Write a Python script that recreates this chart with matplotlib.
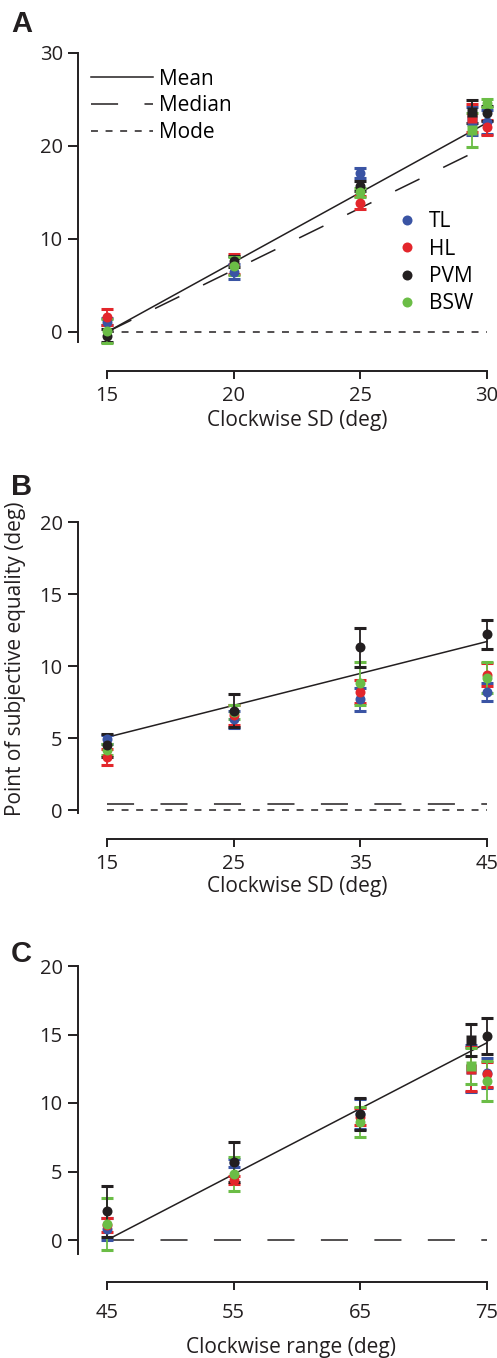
import matplotlib
matplotlib.use("Agg")
import matplotlib.pyplot as plt
from matplotlib.lines import Line2D

plt.rcParams['font.family'] = ['Open Sans', 'DejaVu Sans']
plt.rcParams['lines.scale_dashes'] = False

W, H = 497, 1358

subjects = ['TL', 'HL', 'PVM', 'BSW']
colors = {'TL': '#3a54a4', 'HL': '#e3262b', 'PVM': '#231f20', 'BSW': '#6bbd46'}

# Panel A: clockwise SD 15-30
a_x = [15, 20, 25, 30]
a_mean = {'TL': [1.1, 6.5, 17.1, 22.6], 'HL': [1.6, 7.3, 13.9, 22.0],
          'PVM': [-0.4, 7.6, 15.7, 23.5], 'BSW': [0.1, 7.1, 15.0, 24.6]}
a_err = {'TL': [0.4, 0.8, 0.5, 1.3], 'HL': [0.9, 1.1, 0.7, 0.8],
         'PVM': [0.7, 0.6, 0.5, 0.8], 'BSW': [1.3, 1.0, 0.5, 0.4]}
a_sq_x = 29.4
a_sq = {'TL': 22.7, 'HL': 23.0, 'PVM': 23.7, 'BSW': 21.7}
a_sq_err = {'TL': 1.5, 'HL': 1.5, 'PVM': 1.2, 'BSW': 1.8}
a_pred_x = [15, 30]
a_pred_mean = [0, 22.5]
a_pred_median = [0, 20]
a_pred_mode = [0, 0]

# Panel B: clockwise SD 15-45
b_x = [15, 25, 35, 45]
b_mean = {'TL': [4.9, 6.3, 7.7, 8.2], 'HL': [3.7, 6.6, 8.2, 9.4],
          'PVM': [4.5, 6.9, 11.3, 12.2], 'BSW': [4.2, 6.8, 8.8, 9.2]}
b_err = {'TL': [0.3, 0.6, 0.8, 0.6], 'HL': [0.55, 0.7, 0.8, 0.8],
         'PVM': [0.8, 1.15, 1.35, 1.0], 'BSW': [0.4, 0.5, 1.5, 1.05]}
b_pred_x = [15, 45]
b_pred_mean = [5.05, 11.7]
b_pred_median = [0.45, 0.45]
b_pred_mode = [0, 0]

# Panel C: clockwise range 45-75
c_x = [45, 55, 65, 75]
c_mean = {'TL': [0.8, 5.6, 9.2, 12.2], 'HL': [1.1, 4.4, 9.0, 12.1],
          'PVM': [2.1, 5.7, 9.2, 14.9], 'BSW': [1.2, 4.8, 8.6, 11.6]}
c_err = {'TL': [0.8, 0.3, 1.1, 1.1], 'HL': [0.5, 0.3, 0.6, 0.9],
         'PVM': [1.85, 1.45, 1.15, 1.3], 'BSW': [1.9, 1.25, 1.1, 1.45]}
c_sq_x = 73.7
c_sq = {'TL': 12.5, 'HL': 12.5, 'PVM': 14.6, 'BSW': 12.7}
c_sq_err = {'TL': 1.7, 'HL': 1.6, 'PVM': 1.2, 'BSW': 1.3}
c_pred_x = [45, 75]
c_pred_mean = [0, 14.4]
c_pred_median = [0, 0]

LONG = (0, (19.5, 19))
SHORT = (0, (5, 5.5))
TICK_FS = 14.5
LABEL_FS = 15
INK = '#231f20'


def pix_axes(fig, left, right, top, bottom):
    return fig.add_axes([left / W, 1 - bottom / H, (right - left) / W, (bottom - top) / H])


def setup(ax, xt, xpx, yt, ypx, left, right, top, bottom, ybot, xpad):
    # map pixel layout to data limits
    sx = (xpx[1] - xpx[0]) / (xt[-1] - xt[0])
    sy = (ypx[0] - ypx[1]) / (yt[-1] - yt[0])
    ax.set_xlim(xt[0] - (xpx[0] - left) / sx, xt[-1] + (right - xpx[1]) / sx)
    ax.set_ylim(yt[0] - (bottom - ypx[0]) / sy, yt[-1] + (ypx[1] - top) / sy)
    for s in ['top', 'right']:
        ax.spines[s].set_visible(False)
    for s in ['left', 'bottom']:
        ax.spines[s].set_linewidth(1.4)
        ax.spines[s].set_color(INK)
    ax.spines['left'].set_bounds(ybot, yt[-1])
    ax.spines['bottom'].set_bounds(xt[0], xt[-1])
    ax.set_xticks(xt)
    ax.set_yticks(yt)
    ax.tick_params(axis='y', length=7, width=1.4, pad=4, labelsize=TICK_FS, colors=INK)
    ax.tick_params(axis='x', length=6, width=1.4, pad=xpad, labelsize=TICK_FS, colors=INK)
    ax.patch.set_visible(False)


def points(ax, xs, means, errs, order, marker='o', ms=7.2):
    for s in order:
        ax.errorbar(xs, means[s], yerr=errs[s], fmt=marker, color=colors[s],
                    ms=ms, mec='none', elinewidth=1.3, capsize=4, capthick=2.2, zorder=3)


fig = plt.figure(figsize=(W / 100, H / 100), dpi=100)

# ---- A
axA = pix_axes(fig, 78, 495, 48, 371)
setup(axA, [15, 20, 25, 30], (107, 487), [0, 10, 20, 30], (332, 53), 78, 495, 48, 371, -1.1, 5)
axA.plot(a_pred_x, a_pred_mean, color=INK, lw=1.1, zorder=2)
axA.plot(a_pred_x, a_pred_median, color=INK, lw=1.1, linestyle=LONG, zorder=2)
axA.plot(a_pred_x, a_pred_mode, color=INK, lw=1.1, linestyle=SHORT, zorder=2)
points(axA, a_x, a_mean, a_err, ['TL', 'HL', 'PVM', 'BSW'])
for s in ['TL', 'HL', 'BSW', 'PVM']:
    axA.errorbar([a_sq_x], [a_sq[s]], yerr=[a_sq_err[s]], fmt='s', color=colors[s],
                 ms=6.5, mec='none', elinewidth=1.3, capsize=4, capthick=2.2, zorder=3)
axA.set_xlabel('Clockwise SD (deg)', fontsize=LABEL_FS, color=INK, labelpad=4)
axA.xaxis.set_label_coords(0.525, -0.12)

line_handles = [Line2D([], [], color=INK, lw=1.1),
                Line2D([], [], color=INK, lw=1.1, linestyle=LONG),
                Line2D([], [], color=INK, lw=1.1, linestyle=SHORT)]
leg1 = axA.legend(line_handles, ['Mean', 'Median', 'Mode'], loc='upper left',
                  bbox_to_anchor=(0.0, 0.975), frameon=False, fontsize=LABEL_FS,
                  handlelength=3.0, handletextpad=0.3, labelspacing=0.28, borderaxespad=0.2)
axA.add_artist(leg1)
dot_handles = [Line2D([], [], marker='o', ls='none', color=colors[s], ms=7.2, mec='none') for s in subjects]
axA.legend(dot_handles, subjects, loc='upper left', bbox_to_anchor=(0.745, 0.52),
           frameon=False, fontsize=LABEL_FS, handlelength=1.0, handletextpad=0.55,
           labelspacing=0.3, borderaxespad=0)

# ---- B
axB = pix_axes(fig, 78, 495, 515, 839)
setup(axB, [15, 25, 35, 45], (107, 487), [0, 5, 10, 15, 20], (810, 522), 78, 495, 515, 839, -0.2, 5)
axB.plot(b_pred_x, b_pred_mean, color=INK, lw=1.1, zorder=2)
axB.plot(b_pred_x, b_pred_median, color=INK, lw=1.1, linestyle=LONG, zorder=2)
axB.plot(b_pred_x, b_pred_mode, color=INK, lw=1.1, linestyle=SHORT, zorder=2)
points(axB, b_x, b_mean, b_err, ['TL', 'HL', 'BSW', 'PVM'])
axB.set_xlabel('Clockwise SD (deg)', fontsize=LABEL_FS, color=INK, labelpad=4)
axB.xaxis.set_label_coords(0.525, -0.115)
axB.set_ylabel('Point of subjective equality (deg)', fontsize=LABEL_FS, color=INK)
axB.yaxis.set_label_coords(-0.125, 0.555)

# ---- C
axC = pix_axes(fig, 78, 495, 960, 1282)
setup(axC, [45, 55, 65, 75], (107, 487), [0, 5, 10, 15, 20], (1240, 966), 78, 495, 960, 1282, -1.0, 9)
axC.plot(c_pred_x, c_pred_mean, color=INK, lw=1.1, zorder=2)
axC.plot(c_pred_x, c_pred_median, color=INK, lw=1.1, linestyle=LONG, zorder=2)
points(axC, c_x, c_mean, c_err, ['TL', 'HL', 'BSW', 'PVM'])
for s in ['TL', 'HL', 'BSW', 'PVM']:
    axC.errorbar([c_sq_x], [c_sq[s]], yerr=[c_sq_err[s]], fmt='s', color=colors[s],
                 ms=6.5, mec='none', elinewidth=1.3, capsize=4, capthick=2.2, zorder=3)
axC.set_xlabel('Clockwise range (deg)', fontsize=LABEL_FS, color=INK, labelpad=7)
axC.xaxis.set_label_coords(0.51, -0.17)

# panel letters
for lbl, ybase in [('A', 32), ('B', 495), ('C', 962)]:
    fig.text(11 / W, 1 - ybase / H, lbl, fontsize=21, fontweight='bold',
             family=['Liberation Sans', 'DejaVu Sans'], va='baseline', ha='left', color=INK)

fig.savefig('out.png', dpi=100)
